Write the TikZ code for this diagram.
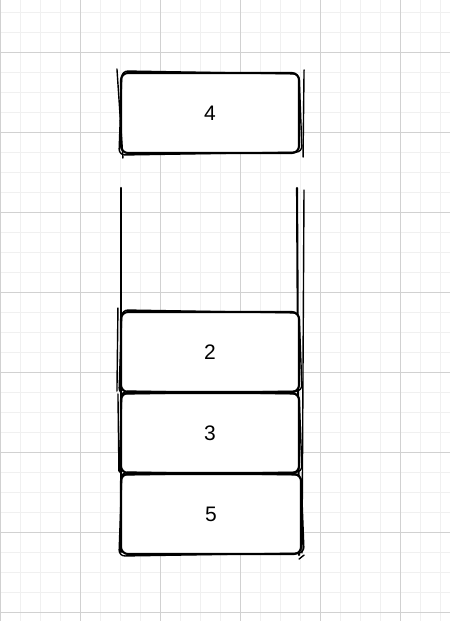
\documentclass[tikz,border=0pt]{standalone}
\usepackage{fontspec}
\setmainfont{Liberation Sans}
\begin{document}
\begin{tikzpicture}[x=1pt,y=-1pt,
  minor/.style={draw=black!6,line width=1pt},
  major/.style={draw=black!18,line width=1pt},
  sk/.style={draw=black,line width=2.1pt,line cap=round,line join=round},
  skthin/.style={draw=black,line width=1.4pt,line cap=round,line join=round},
  boxn/.style={sk,rounded corners=7pt,fill=white,minimum width=178pt,minimum height=80pt,inner sep=0pt,font=\fontsize{21}{25}\selectfont}]
\useasboundingbox (0,0) rectangle (450,621);
\fill[white] (0,0) rectangle (450,621);
% grid
\foreach \x in {20,40,60,100,120,140,180,200,220,260,280,300,340,360,380,420,440}
  \draw[minor] (\x,0) -- (\x,621);
\foreach \y in {12,32,72,92,112,152,172,192,232,252,272,312,332,352,392,412,432,472,492,512,552,572,592}
  \draw[minor] (0,\y) -- (450,\y);
\foreach \x in {0,80,160,240,320,400}
  \draw[major] (\x,0) -- (\x,621);
\foreach \y in {52,132,212,292,372,452,532,612}
  \draw[major] (0,\y) -- (450,\y);
% container walls
\coordinate (lt) at (121,188);
\coordinate (lb) at (121,552);
\coordinate (rt1) at (297,188);
\coordinate (rb1) at (299,555);
\coordinate (rt2) at (304,190);
\coordinate (rb2) at (302,553);
\draw[sk] (lt) -- (lb);
\draw[sk] (rt1) -- (rb1);
\draw[skthin] (rt2) -- (rb2);
% boxes
\node[boxn] (b4) at (210,113) {4};
\node[boxn] (b2) at (210,352) {2};
\node[boxn] (b3) at (210,433) {3};
\node[boxn,minimum width=180pt] (b5) at (211,514) {5};
% second sketch strokes
\foreach \n in {b4,b2,b3,b5}{
  \draw[skthin,rounded corners=6pt]
    ([shift={(2,-1)}]\n.north west) -- ([shift={(-1,2)}]\n.north east)
    -- ([shift={(2,-2)}]\n.south east) -- ([shift={(-1,1)}]\n.south west) -- cycle;
}
\draw[skthin] ([shift={(-3,-3)}]b4.north west) -- ([shift={(3,4)}]b4.south west);
\draw[skthin] ([shift={(4,-2)}]b4.north east) -- ([shift={(3,3)}]b4.south east);
\draw[skthin] ([shift={(-2,-3)}]b2.north west) -- ([shift={(-3,-2)}]b2.south west);
\draw[skthin] ([shift={(-2,2)}]b3.north west) -- ([shift={(-1,-3)}]b3.south west);
\draw[skthin] ([shift={(2,0)}]b5.south east) -- ([shift={(-3,4)}]b5.south east);
\end{tikzpicture}
\end{document}
